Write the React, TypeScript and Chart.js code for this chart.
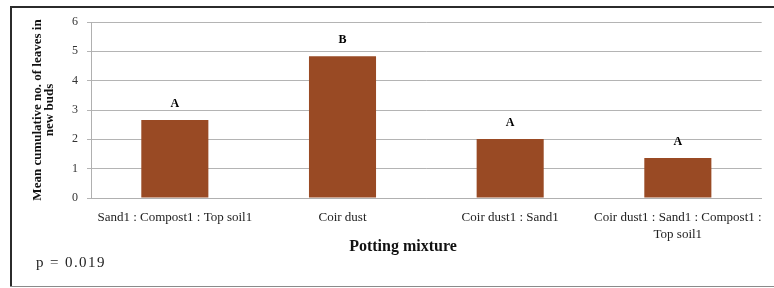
import React, { useEffect, useRef } from "react";
import { Chart, registerables } from "chart.js";

Chart.register(...registerables);

const categories: (string | string[])[] = [
  "Sand1 : Compost1 : Top soil1",
  "Coir dust",
  "Coir dust1 : Sand1",
  ["Coir dust1 : Sand1 : Compost1 :", "Top soil1"],
];
const meanLeaves = [2.66, 4.83, 2.01, 1.36];
const groupLetters = ["A", "B", "A", "A"];
const yTitle = ["Mean cumulative no. of leaves in", "new buds"];
const xTitle = "Potting mixture";
const pValueText = "p = 0.019";

const SERIF = "'Liberation Serif', 'Times New Roman', serif";

export default function App() {
  const ref = useRef<HTMLCanvasElement | null>(null);

  useEffect(() => {
    if (!ref.current) return;
    const decor = {
      id: "decor",
      beforeDraw(chart: any) {
        const ctx = chart.ctx;
        ctx.save();
        ctx.fillStyle = "#ffffff";
        ctx.fillRect(0, 0, chart.width, chart.height);
        ctx.restore();
      },
      afterDraw(chart: any) {
        const ctx = chart.ctx;
        ctx.save();
        // frame
        ctx.strokeStyle = "#2b2b2b";
        ctx.lineWidth = 2;
        ctx.beginPath();
        ctx.moveTo(11, 7);
        ctx.lineTo(774, 7);
        ctx.moveTo(11, 6);
        ctx.lineTo(11, 287);
        ctx.stroke();
        ctx.strokeStyle = "#8a8a8a";
        ctx.lineWidth = 1;
        ctx.beginPath();
        ctx.moveTo(10, 286.5);
        ctx.lineTo(774, 286.5);
        ctx.stroke();
        // letters
        const meta = chart.getDatasetMeta(0);
        ctx.fillStyle = "#000";
        ctx.font = `bold 12px ${SERIF}`;
        ctx.textAlign = "center";
        ctx.textBaseline = "middle";
        meta.data.forEach((bar: any, i: number) => {
          ctx.fillText(groupLetters[i], bar.x, bar.y - 16);
        });
        // x-axis title
        ctx.fillStyle = "#111";
        ctx.font = `bold 16px ${SERIF}`;
        ctx.textAlign = "center";
        ctx.fillText(xTitle, 403, 247);
        // p-value
        ctx.fillStyle = "#222";
        ctx.font = `15px ${SERIF}`;
        ctx.textAlign = "left";
        (ctx as any).letterSpacing = "1.4px";
        ctx.fillText(pValueText, 36, 263);
        ctx.restore();
      },
    };

    const chart = new Chart(ref.current, {
      type: "bar",
      data: {
        labels: categories,
        datasets: [
          {
            data: meanLeaves,
            backgroundColor: "#994a24",
            borderWidth: 0,
            barPercentage: 0.4,
            categoryPercentage: 1,
          },
        ],
      },
      options: {
        responsive: false,
        animation: false,
        layout: { padding: { top: 22, right: 11, left: 0, bottom: 0 } },
        plugins: {
          legend: { display: false },
          tooltip: { enabled: false },
        },
        scales: {
          x: {
            grid: { display: false, drawTicks: false },
            border: { display: true, color: "#b0b0b0", width: 1 },
            ticks: {
              color: "#222",
              font: { family: SERIF, size: 13, lineHeight: 1.3 },
              padding: 11,
              maxRotation: 0,
              minRotation: 0,
              autoSkip: false,
            },
            title: { display: false, text: xTitle },
            afterFit: (s: any) => {
              s.height = 90;
            },
          },
          y: {
            min: 0,
            max: 6,
            ticks: {
              stepSize: 1,
              color: "#333",
              font: { family: SERIF, size: 12 },
              padding: 9,
            },
            grid: { color: "#b4b4b4", lineWidth: 1, tickLength: 4, drawTicks: true },
            border: { display: true, color: "#b0b0b0", width: 1 },
            title: {
              display: true,
              text: yTitle,
              color: "#111",
              font: { family: SERIF, size: 13, weight: "bold", lineHeight: 0.92 },
              padding: { top: 32, bottom: 0 },
            },
            afterFit: (s: any) => {
              s.width = 91;
            },
          },
        },
      },
      plugins: [decor],
    } as any);
    return () => chart.destroy();
  }, []);

  return (
    <div style={{ position: "fixed", left: 0, top: 0, width: 774, height: 288, background: "#fff" }}>
      <canvas ref={ref} width={774} height={288} style={{ display: "block", width: 774, height: 288 }} />
    </div>
  );
}
